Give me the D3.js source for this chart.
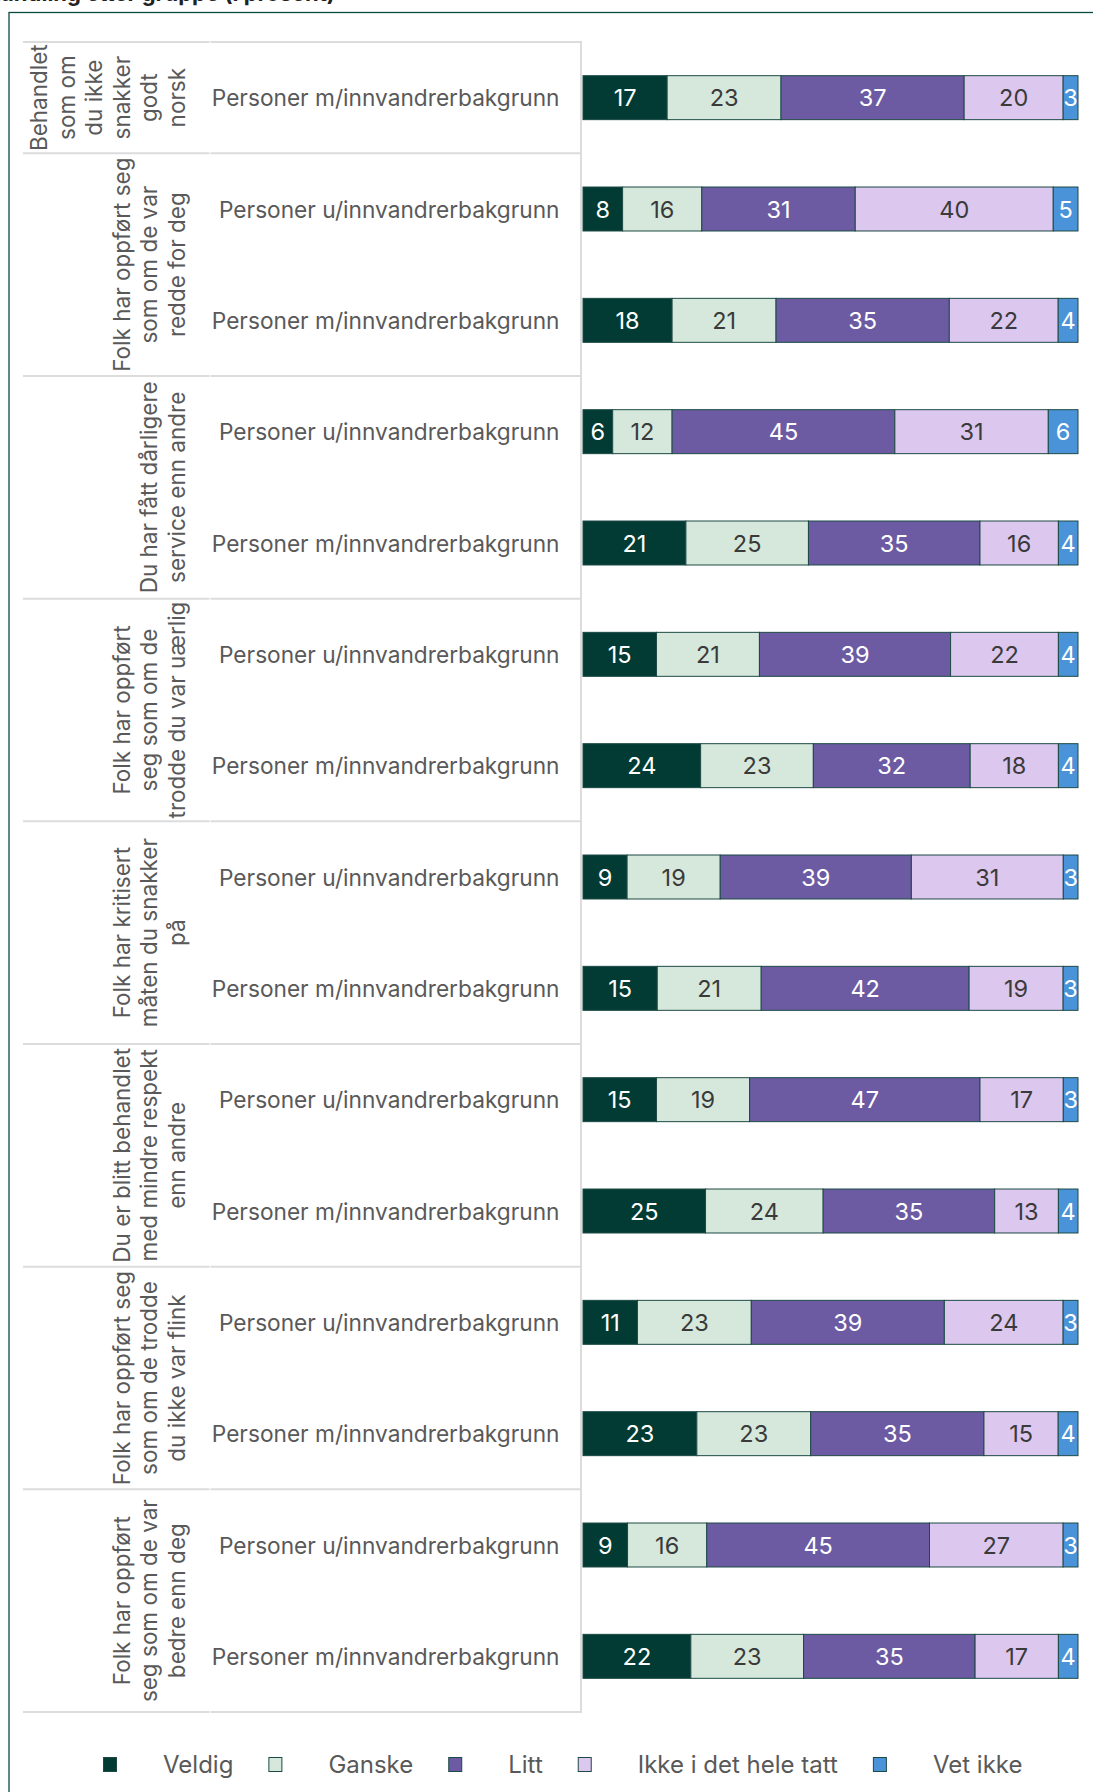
<!DOCTYPE html>
<html>
<head>
<meta charset="utf-8">
<script src="https://cdn.jsdelivr.net/npm/d3@7"></script>
<style>
  html, body { margin: 0; padding: 0; background: #ffffff; }
  svg { display: block; font-family: Inter, "Noto Sans", sans-serif; }
</style>
</head>
<body>
<svg id="chart" width="1093" height="1792"></svg>
<script>
// ---- Data ----
const seriesNames = ["Veldig", "Ganske", "Litt", "Ikke i det hele tatt", "Vet ikke"];
const seriesColors = ["#023b33", "#d6e8db", "#6c5ba3", "#dcc7ef", "#4a93d8"];
const labelColors = ["#ffffff", "#3a3a3a", "#ffffff", "#3a3a3a", "#ffffff"];

const groupLabels = [
  ["Behandlet", "som om", "du ikke", "snakker", "godt", "norsk"],
  ["Folk har oppført seg", "som om de var", "redde for deg"],
  ["Du har fått dårligere", "service enn andre"],
  ["Folk har oppført", "seg som om de", "trodde du var uærlig"],
  ["Folk har kritisert", "måten du snakker", "på"],
  ["Du er blitt behandlet", "med mindre respekt", "enn andre"],
  ["Folk har oppført seg", "som om de trodde", "du ikke var flink"],
  ["Folk har oppført", "seg som om de var", "bedre enn deg"]
];

const groupText = ["Personer u/innvandrerbakgrunn", "Personer m/innvandrerbakgrunn"];

// values per group: [u/innvandrerbakgrunn, m/innvandrerbakgrunn]; null = not shown
const valuesG1 = [null, [17, 23, 37, 20, 3]];
const valuesG2 = [[8, 16, 31, 40, 5], [18, 21, 35, 22, 4]];
const valuesG3 = [[6, 12, 45, 31, 6], [21, 25, 35, 16, 4]];
const valuesG4 = [[15, 21, 39, 22, 4], [24, 23, 32, 18, 4]];
const valuesG5 = [[9, 19, 39, 31, 3], [15, 21, 42, 19, 3]];
const valuesG6 = [[15, 19, 47, 17, 3], [25, 24, 35, 13, 4]];
const valuesG7 = [[11, 23, 39, 24, 3], [23, 23, 35, 15, 4]];
const valuesG8 = [[9, 16, 45, 27, 3], [22, 23, 35, 17, 4]];
const allValues = [valuesG1, valuesG2, valuesG3, valuesG4, valuesG5, valuesG6, valuesG7, valuesG8];

// ---- Build rows ----
const rows = [];
allValues.forEach((gv, gi) => {
  gv.forEach((vals, k) => {
    if (!vals) return;
    const r = { id: gi + "-" + k, group: gi, label: groupText[k] };
    seriesNames.forEach((s, si) => r[s] = vals[si]);
    rows.push(r);
  });
});

const svg = d3.select("#chart");

// Frame
svg.append("rect")
  .attr("x", 9).attr("y", 12.5)
  .attr("width", 1200).attr("height", 2000)
  .attr("fill", "none").attr("stroke", "#0b4a40").attr("stroke-width", 1.3);

// Title (mostly cropped at top, as in the source)
svg.append("text")
  .attr("x", 335).attr("y", 1)
  .attr("text-anchor", "end")
  .attr("font-size", 22).attr("font-weight", 700).attr("fill", "#222")
  .text("Opplevd forskjellsbehandling etter gruppe (i prosent)");

// Scales
const tableTop = 42, tableBottom = 1712;
const y = d3.scaleBand()
  .domain(rows.map(d => d.id))
  .range([tableTop, tableBottom])
  .paddingInner(0.605)
  .paddingOuter(0.3025);

const x = d3.scaleLinear().domain([0, 1]).range([583, 1078]);

const stack = d3.stack().keys(seriesNames).offset(d3.stackOffsetExpand);
const stacked = stack(rows);

// Table lines
const step = y.step();
const groupBounds = [];
allValues.forEach((gv, gi) => {
  const ids = rows.filter(r => r.group === gi).map(r => r.id);
  const top = y(ids[0]) - y.paddingOuter() * step;
  const bottom = y(ids[ids.length - 1]) + y.bandwidth() + y.paddingOuter() * step;
  groupBounds.push({ gi, top, bottom });
});

const lines = svg.append("g").attr("stroke", "#dcdcdc").attr("stroke-width", 2);
const hLines = [tableTop].concat(groupBounds.map(g => g.bottom));
hLines.forEach(v => {
  lines.append("line").attr("x1", 23).attr("x2", 209.5).attr("y1", v).attr("y2", v);
  lines.append("line").attr("x1", 210.5).attr("x2", 581).attr("y1", v).attr("y2", v);
});
lines.append("line").attr("x1", 581).attr("x2", 581).attr("y1", tableTop - 1).attr("y2", tableBottom + 1);

// Group labels (rotated)
const glG = svg.append("g").attr("fill", "#595959").attr("font-size", 22.5);
groupBounds.forEach(g => {
  const lns = groupLabels[g.gi];
  const n = lns.length;
  const cy = (g.top + g.bottom) / 2;
  lns.forEach((t, i) => {
    const cx = 176 - (n - 1 - i) * 27.5;
    glG.append("text")
      .attr("transform", `translate(${cx},${cy}) rotate(-90)`)
      .attr("text-anchor", "middle")
      .attr("dominant-baseline", "central")
      .text(t);
  });
});

// Category labels
svg.append("g").selectAll("text")
  .data(rows).join("text")
  .attr("x", 559.5)
  .attr("y", d => y(d.id) + y.bandwidth() / 2)
  .attr("text-anchor", "end")
  .attr("dominant-baseline", "central")
  .attr("font-size", 22.7)
  .attr("fill", "#595959")
  .text(d => d.label);

// Bars
const layers = svg.append("g").selectAll("g")
  .data(stacked).join("g")
  .attr("fill", (d, i) => seriesColors[i]);

layers.selectAll("rect")
  .data(d => d.map(p => ({ p, key: d.key })))
  .join("rect")
  .attr("x", d => x(d.p[0]))
  .attr("y", d => y(d.p.data.id))
  .attr("width", d => x(d.p[1]) - x(d.p[0]))
  .attr("height", y.bandwidth())
  .attr("stroke", "#1d4a45")
  .attr("stroke-width", 1);

// Bar value labels
stacked.forEach((layer, si) => {
  svg.append("g").selectAll("text")
    .data(layer).join("text")
    .attr("x", d => (x(d[0]) + x(d[1])) / 2)
    .attr("y", d => y(d.data.id) + y.bandwidth() / 2)
    .attr("text-anchor", "middle")
    .attr("dominant-baseline", "central")
    .attr("font-size", 23.5)
    .attr("fill", labelColors[si])
    .text(d => d.data[layer.key]);
});

// Legend
const leg = svg.append("g");
let lx = 103;
const ly = 1764.5;
seriesNames.forEach((s, i) => {
  leg.append("rect")
    .attr("x", lx + 0.5).attr("y", ly - 7.5 + 0.5)
    .attr("width", 13).attr("height", 14)
    .attr("fill", seriesColors[i])
    .attr("stroke", "#1d4a45").attr("stroke-width", 1);
  const t = leg.append("text")
    .attr("x", lx + 60).attr("y", ly)
    .attr("dominant-baseline", "central")
    .attr("font-size", 24)
    .attr("fill", "#595959")
    .text(s);
  lx = lx + 60 + t.node().getComputedTextLength() + 35;
});
</script>
</body>
</html>
